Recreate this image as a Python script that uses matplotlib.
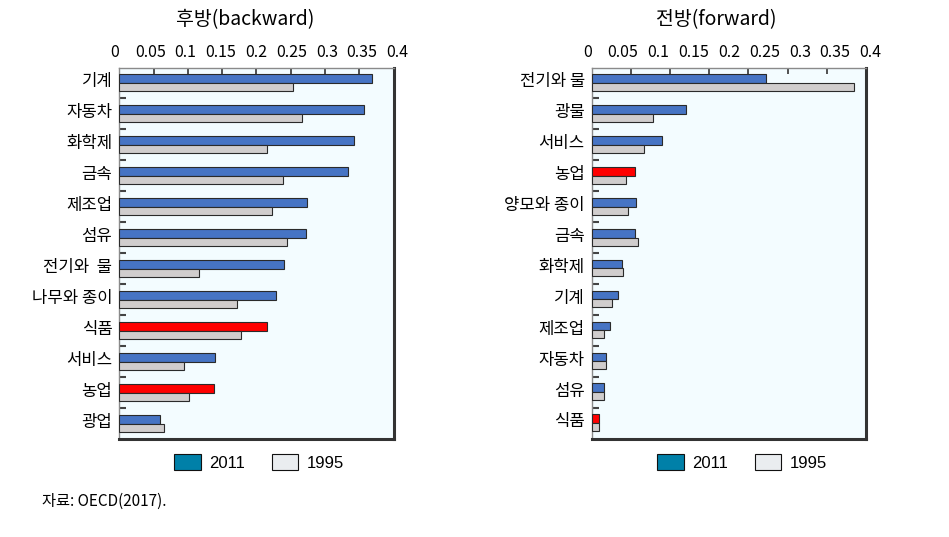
import matplotlib
matplotlib.use("Agg")
import matplotlib.pyplot as plt
from matplotlib.patches import Patch
import numpy as np

plt.rcParams['font.family'] = ['Noto Sans CJK KR', 'DejaVu Sans']

# 후방(backward) 참여
back_labels = ["기계", "자동차", "화학제", "금속", "제조업", "섬유", "전기와  물",
               "나무와 종이", "식품", "서비스", "농업", "광업"]
back_2011 = [0.369, 0.357, 0.343, 0.334, 0.274, 0.272, 0.240, 0.228, 0.216, 0.140, 0.138, 0.059]
back_1995 = [0.254, 0.266, 0.216, 0.239, 0.223, 0.245, 0.116, 0.172, 0.178, 0.094, 0.102, 0.065]

# 전방(forward) 참여
fwd_labels = ["전기와 물", "광물", "서비스", "농업", "양모와 종이", "금속", "화학제",
              "기계", "제조업", "자동차", "섬유", "식품"]
fwd_2011 = [0.222, 0.120, 0.090, 0.0555, 0.056, 0.0555, 0.039, 0.033, 0.023, 0.018, 0.016, 0.0098]
fwd_1995 = [0.335, 0.078, 0.067, 0.0436, 0.046, 0.059, 0.040, 0.026, 0.016, 0.018, 0.016, 0.009]

highlight = ["식품", "농업"]
tick_vals = [0, 0.05, 0.1, 0.15, 0.2, 0.25, 0.3, 0.35, 0.4]
tick_text = ["0", "0.05", "0.1", "0.15", "0.2", "0.25", "0.3", "0.35", "0.4"]

BLUE = "#4674c4"
GREY = "#d0cdcd"
RED = "#ff0000"
EDGE = "#2a2a2a"
BG = "#f3fcff"

W, H = 949, 537
fig = plt.figure(figsize=(W / 100, H / 100), dpi=100)


def px_box(x0, y0, x1, y1):
    return [x0 / W, 1 - y1 / H, (x1 - x0) / W, (y1 - y0) / H]


def draw_panel(box, lab_box, xmax, labels, v2011, v1995, title, title_x, leg_x):
    ax = fig.add_axes(box)
    n = len(labels)
    y = np.arange(n)
    c2011 = [RED if lab in highlight else BLUE for lab in labels]
    ax.barh(y - 0.14, v2011, height=0.28, color=c2011, edgecolor=EDGE, linewidth=0.8, zorder=3)
    ax.barh(y + 0.13, v1995, height=0.26, color=GREY, edgecolor=EDGE, linewidth=0.8, zorder=3)
    ax.set_xlim(0, xmax)
    ax.set_ylim(n - 0.5, -0.5)
    ax.set_facecolor(BG)

    ax.xaxis.tick_top()
    ax.set_xticks(np.arange(0.05, xmax - 0.001, 0.05))
    ax.tick_params(axis='x', direction='in', length=4, width=1.2, color="#333333",
                   labeltop=False, labelbottom=False)
    ax.set_yticks(y - 0.1)
    ax.set_yticklabels(labels, fontsize=12)
    ax.tick_params(axis='y', length=0, pad=5)
    ax.set_yticks(np.arange(0.5, n - 0.5, 1), minor=True)
    ax.tick_params(axis='y', which='minor', direction='in', length=5, width=1.5, color="#444444")

    for s in ['left', 'top']:
        ax.spines[s].set_color("#8a8a8a")
        ax.spines[s].set_linewidth(1.0)
    for s in ['right', 'bottom']:
        ax.spines[s].set_color("#333333")
        ax.spines[s].set_linewidth(2.2)

    # 눈금 라벨 (원본처럼 눈금과 약간 어긋나게 배치)
    lab = fig.add_axes(lab_box)
    lab.set_xlim(0, 0.4)
    lab.patch.set_visible(False)
    for s in lab.spines.values():
        s.set_visible(False)
    lab.set_yticks([])
    lab.xaxis.tick_top()
    lab.set_xticks(tick_vals)
    lab.set_xticklabels(tick_text, fontsize=11.5)
    lab.tick_params(axis='x', length=0, pad=5)

    fig.text(title_x / W, 1 - 20 / H, title, ha='center', va='center', fontsize=14)

    handles = [Patch(facecolor="#0080a8", edgecolor="#111111", linewidth=0.8, label="2011"),
               Patch(facecolor="#eaedf0", edgecolor="#111111", linewidth=0.8, label="1995")]
    fig.legend(handles=handles, loc='center', bbox_to_anchor=(leg_x / W, 1 - 462.5 / H),
               ncol=2, frameon=False, handlelength=1.6, handleheight=1.1,
               handletextpad=0.5, columnspacing=1.6,
               prop={'family': ['Liberation Sans Narrow', 'Liberation Sans'], 'size': 12})
    return ax


draw_panel(px_box(119.3, 67.5, 393.5, 439), px_box(115, 67.5, 397.5, 439), 0.4,
           back_labels, back_2011, back_1995, "후방(backward)", 245, 259)
draw_panel(px_box(591.7, 67.5, 866, 438.5), px_box(587.5, 67.5, 870.5, 438.5), 0.35,
           fwd_labels, fwd_2011, fwd_1995, "전방(forward)", 716.7, 742)

fig.text(41.7 / W, 1 - 501.7 / H, "자료: OECD(2017).", ha='left', va='center', fontsize=11,
         family=['Liberation Sans Narrow', 'Noto Sans CJK KR'])

fig.savefig("out.png", dpi=100)
